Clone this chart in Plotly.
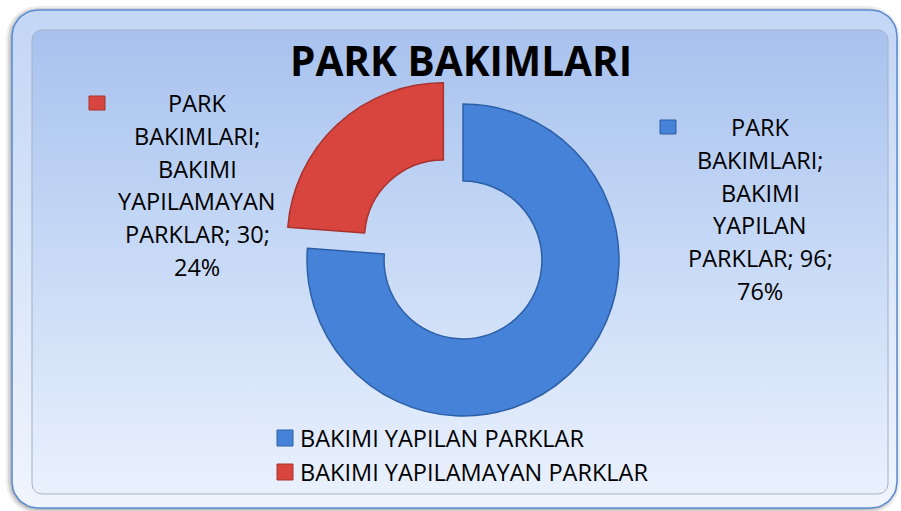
import numpy as np
import plotly.graph_objects as go

# ---------------- data ----------------
title_text = "PARK BAKIMLARI"
series_name = "PARK BAKIMLARI"
categories = ["BAKIMI YAPILAN PARKLAR", "BAKIMI YAPILAMAYAN PARKLAR"]
values = [96, 30]

# ---------------- style ----------------
colors = ["#4683d8", "#d8443e"]
edge_colors = ["#2d5fa6", "#a8322d"]
FONT = "Open Sans"
W, H = 901, 511

total = sum(values)
percents = [round(v / total * 100) for v in values]


def label_lines(name, cat, v, p):
    w = cat.split()
    s = name.split()
    return [s[0], s[1] + ";", w[0], w[1], f"{w[2]}; {v};", f"{p}%"]


def rrect(x0, y0, x1, y1, r, n=12):
    xs, ys = [], []
    corners = [(x1 - r, y0 + r, -90, 0), (x1 - r, y1 - r, 0, 90),
               (x0 + r, y1 - r, 90, 180), (x0 + r, y0 + r, 180, 270)]
    for cx, cy, a0, a1 in corners:
        t = np.radians(np.linspace(a0, a1, n))
        xs += list(cx + r * np.cos(t))
        ys += list(cy + r * np.sin(t))
    xs.append(xs[0]); ys.append(ys[0])
    return xs, ys


fig = go.Figure()

# shadow
for off, op in [(6, 0.10), (4, 0.14), (2, 0.18)]:
    xs, ys = rrect(12 - off, 10 - off + 2, 897 + off - 3, 508 + off, 26 + off)
    fig.add_trace(go.Scatter(x=xs, y=ys, mode="lines", fill="toself",
                             fillcolor=f"rgba(80,80,80,{op})", line=dict(width=0),
                             hoverinfo="skip", showlegend=False))

# outer frame (bevel)
xs, ys = rrect(12, 10, 897, 508, 26)
fig.add_trace(go.Scatter(x=xs, y=ys, mode="lines", fill="toself",
                         fillgradient=dict(type="vertical", start=10, stop=508,
                                           colorscale=[[0, "#c3d6f5"], [1, "#f0f5fd"]]),
                         line=dict(width=1.5, color="#5a8ad2"),
                         hoverinfo="skip", showlegend=False))
# inner panel
xs, ys = rrect(32, 30, 888, 494, 10)
fig.add_trace(go.Scatter(x=xs, y=ys, mode="lines", fill="toself",
                         fillgradient=dict(type="vertical", start=30, stop=494,
                                           colorscale=[[0, "#a8c2ee"], [0.5, "#c8daf6"], [1, "#eaf1fd"]]),
                         line=dict(width=1, color="#a3b1c6"),
                         hoverinfo="skip", showlegend=False))

# donut
CX, CY, R, PULL = 463, 260, 156, 0.185
half = R * (1 + PULL)
fig.add_trace(go.Pie(
    labels=categories, values=values, hole=0.506, sort=False,
    direction="clockwise", rotation=0, pull=[0, PULL],
    marker=dict(colors=colors, line=dict(color=edge_colors, width=1.5)),
    textinfo="none", hoverinfo="label+value+percent", showlegend=False,
    domain=dict(x=[(CX - half) / W, (CX + half) / W], y=[(H - CY - half) / H, (H - CY + half) / H]),
))

annotations = []
shapes = []

# data labels
label_pos = [(760, 127), (197, 103)]
marker_pos = [(668, 127), (97, 103)]
for i in range(len(categories)):
    lines = label_lines(series_name, categories[i], values[i], percents[i])
    lx, ly = label_pos[i]
    for k, t in enumerate(lines):
        annotations.append(dict(x=lx, y=ly + k * 32.8, xref="x", yref="y", text=t,
                                showarrow=False, xanchor="center", yanchor="middle",
                                font=dict(family=FONT, size=23.5, color="#000000")))
    mx, my = marker_pos[i]
    shapes.append(dict(type="rect", xref="x", yref="y", x0=mx - 8, x1=mx + 8, y0=my - 7, y1=my + 7,
                       fillcolor=colors[i], line=dict(color=edge_colors[i], width=1)))

# legend (manual)
leg_y = [438, 472]
for i in range(len(categories)):
    shapes.append(dict(type="rect", xref="x", yref="y", x0=277, x1=293, y0=leg_y[i] - 8, y1=leg_y[i] + 8,
                       fillcolor=colors[i], line=dict(color=edge_colors[i], width=1)))
    annotations.append(dict(x=298, y=leg_y[i], xref="x", yref="y", text=categories[i],
                            showarrow=False, xanchor="left", yanchor="middle",
                            font=dict(family=FONT, size=23.5, color="#000000")))

# title
annotations.append(dict(x=461, y=60, xref="x", yref="y", text=f"<b>{title_text}</b>",
                        showarrow=False, xanchor="center", yanchor="middle",
                        font=dict(family=FONT, size=40.5, color="#000000")))

fig.update_layout(
    width=W, height=H, margin=dict(l=0, r=0, t=0, b=0),
    paper_bgcolor="white", plot_bgcolor="rgba(0,0,0,0)",
    xaxis=dict(range=[0, W], visible=False, fixedrange=True, domain=[0, 1]),
    yaxis=dict(range=[H, 0], visible=False, fixedrange=True, domain=[0, 1]),
    annotations=annotations, shapes=shapes, showlegend=False,
)

fig.write_html("out.html", config={"displayModeBar": False},
               post_script="document.body.style.margin='0';document.body.style.padding='0';")
